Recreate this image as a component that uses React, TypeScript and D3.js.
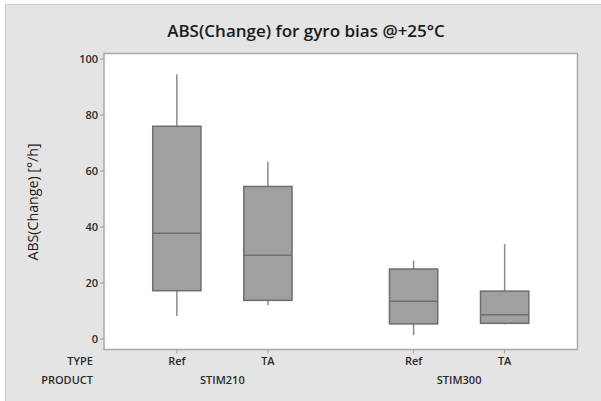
import React from "react";
import * as d3 from "d3";

const title = "ABS(Change) for gyro bias @+25°C";
const yLabel = "ABS(Change) [°/h]";
const products = ["STIM210", "STIM300"];
const types = ["Ref", "TA"];
const yTicks = [0, 20, 40, 60, 80, 100];

// per box, order: STIM210-Ref, STIM210-TA, STIM300-Ref, STIM300-TA
const whiskerLow = [8.2, 12.1, 1.4, 5.25];
const q1 = [17.25, 13.8, 5.4, 5.6];
const median = [37.75, 29.9, 13.5, 8.7];
const q3 = [76.0, 54.5, 25.0, 17.1];
const whiskerHigh = [94.6, 63.3, 28.0, 33.9];

const W = 601;
const H = 401;
const frame = { left: 104, right: 577.5, top: 53.5, bottom: 349.5 };
const FONT = "'Open Sans', 'Noto Sans', sans-serif";

export default function App() {
  const groupGap = 2.6;
  const boxes = products.flatMap((p, pi) =>
    types.map((t, ti) => ({ product: p, type: t, pos: pi * groupGap + ti }))
  );
  const x = d3.scaleLinear().domain([-0.8, 4.4]).range([frame.left, frame.right]);
  const y = d3.scaleLinear().domain([-3.75, 102]).range([frame.bottom, frame.top]);
  const boxW = x(0.53) - x(0);

  return (
    <svg
      width={W}
      height={H}
      style={{ position: "fixed", left: 0, top: 0, display: "block" }}
      fontFamily={FONT}
    >
      <rect x={0} y={0} width={W} height={H} fill="#ffffff" />
      <rect x={5.5} y={4.5} width={W} height={H} fill="#e4e4e4" stroke="#c8c8c8" strokeWidth={1} />
      <text x={306} y={37} textAnchor="middle" fontSize={17} fontWeight={600} fill="#1a1a1a">
        {title}
      </text>
      <rect
        x={frame.left}
        y={frame.top}
        width={frame.right - frame.left}
        height={frame.bottom - frame.top}
        fill="#ffffff"
        stroke="#a9a9a9"
        strokeWidth={1.5}
      />
      {yTicks.map((t) => (
        <g key={t}>
          <line x1={frame.left - 4} x2={frame.left} y1={y(t)} y2={y(t)} stroke="#a0a0a0" />
          <text
            x={frame.left - 6}
            y={y(t)}
            dy="0.35em"
            textAnchor="end"
            fontSize={11}
            fontWeight={600}
            fill="#2a2a2a"
          >
            {t}
          </text>
        </g>
      ))}
      <text
        transform={`translate(33,202) rotate(-90)`}
        textAnchor="middle"
        dy="0.35em"
        fontSize={14.2}
        fill="#1a1a1a"
      >
        {yLabel}
      </text>
      {boxes.map((b, i) => {
        const cx = x(b.pos);
        return (
          <g key={i}>
            <line x1={cx} x2={cx} y1={y(whiskerHigh[i])} y2={y(q3[i])} stroke="#8a8a8a" strokeWidth={1.5} />
            <line x1={cx} x2={cx} y1={y(q1[i])} y2={y(whiskerLow[i])} stroke="#8a8a8a" strokeWidth={1.5} />
            <rect
              x={cx - boxW / 2}
              y={y(q3[i])}
              width={boxW}
              height={y(q1[i]) - y(q3[i])}
              fill="#a0a0a0"
              stroke="#6e6e6e"
              strokeWidth={1.5}
            />
            <line
              x1={cx - boxW / 2}
              x2={cx + boxW / 2}
              y1={y(median[i])}
              y2={y(median[i])}
              stroke="#6e6e6e"
              strokeWidth={1.5}
            />
            <line x1={cx} x2={cx} y1={frame.bottom} y2={frame.bottom + 4} stroke="#a0a0a0" />
            <text x={cx} y={361} dy="0.35em" textAnchor="middle" fontSize={11} fontWeight={600} fill="#2a2a2a">
              {b.type}
            </text>
          </g>
        );
      })}
      {products.map((p, pi) => (
        <text
          key={p}
          x={(x(pi * groupGap) + x(pi * groupGap + 1)) / 2}
          y={380}
          dy="0.35em"
          textAnchor="middle"
          fontSize={11}
          fontWeight={600}
          fill="#2a2a2a"
        >
          {p}
        </text>
      ))}
      <text x={93} y={361} dy="0.35em" textAnchor="end" fontSize={11} fontWeight={600} fill="#2a2a2a">
        TYPE
      </text>
      <text x={93} y={380} dy="0.35em" textAnchor="end" fontSize={11} fontWeight={600} fill="#2a2a2a">
        PRODUCT
      </text>
    </svg>
  );
}
